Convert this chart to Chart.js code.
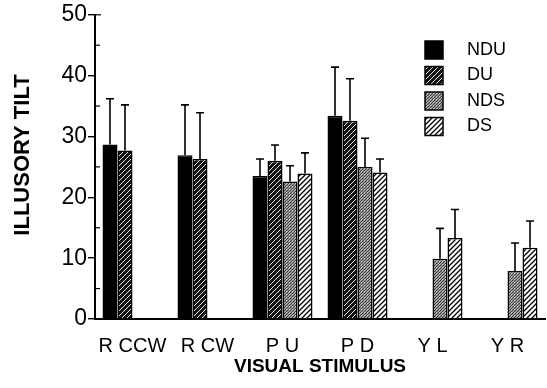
<!DOCTYPE html>
<html>
<head>
<meta charset="utf-8">
<script src="https://cdn.jsdelivr.net/npm/chart.js@4.4.1/dist/chart.umd.min.js"></script>
<style>
  html, body { margin: 0; padding: 0; background: #fff; }
  #wrap { width: 547px; height: 388px; }
</style>
</head>
<body>
<div id="wrap"><canvas id="chart"></canvas></div>
<script>
const stimuli = ['R CCW', 'R CW', 'P U', 'P D', 'Y L', 'Y R'];
const seriesNames = ['NDU', 'DU', 'NDS', 'DS'];

// mean illusory tilt per condition (null = not tested)
const ndu = [28.7, 26.9, 23.5, 33.4, null, null];
const du  = [27.7, 26.3, 26.0, 32.6, null, null];
const nds = [null, null, 22.6, 25.0, 9.9, 7.9];
const ds  = [null, null, 23.9, 24.1, 13.3, 11.7];

// upper error bar sizes
const nduErr = [7.5, 8.3, 2.8, 8.0, null, null];
const duErr  = [7.5, 7.6, 2.6, 6.9, null, null];
const ndsErr = [null, null, 2.6, 4.7, 5.0, 4.6];
const dsErr  = [null, null, 3.4, 2.2, 4.7, 4.4];

const yTicks = [0, 10, 20, 30, 40, 50];

const FONT = '"Liberation Sans", Arial, Helvetica, sans-serif';

function hatch(bg, fg, lw) {
  const c = document.createElement('canvas');
  c.width = 5; c.height = 5;
  const g = c.getContext('2d');
  g.fillStyle = bg; g.fillRect(0, 0, 5, 5);
  g.strokeStyle = fg; g.lineWidth = lw;
  g.beginPath();
  g.moveTo(-1, 6); g.lineTo(6, -1);
  g.moveTo(-1, 1); g.lineTo(1, -1);
  g.moveTo(4, 6); g.lineTo(6, 4);
  g.stroke();
  return g.createPattern(c, 'repeat');
}

function stipple() {
  const c = document.createElement('canvas');
  c.width = 3; c.height = 3;
  const g = c.getContext('2d');
  g.fillStyle = '#9a9a9a'; g.fillRect(0, 0, 3, 3);
  g.fillStyle = '#3a3a3a';
  g.fillRect(0, 0, 1, 1); g.fillRect(2, 1, 1, 1); g.fillRect(1, 2, 1, 1);
  g.fillStyle = '#d0d0d0';
  g.fillRect(1, 0, 1, 1);
  return g.createPattern(c, 'repeat');
}

const fills = ['#000', hatch('#111', '#fff', 0.9), stipple(), hatch('#fff', '#000', 1.3)];
const values = [ndu, du, nds, ds];
const errors = [nduErr, duErr, ndsErr, dsErr];

const extras = {
  id: 'extras',
  afterDatasetsDraw(chart) {
    const ctx = chart.ctx;
    const y = chart.scales.y;
    const area = chart.chartArea;
    ctx.save();
    ctx.strokeStyle = '#000';
    ctx.lineWidth = 1.6;
    // error bars (upper only)
    values.forEach((vals, di) => {
      const meta = chart.getDatasetMeta(di);
      vals.forEach((v, i) => {
        const e = errors[di][i];
        if (v == null || e == null) return;
        const x = meta.data[i].x;
        const y0 = y.getPixelForValue(v);
        const y1 = y.getPixelForValue(v + e);
        ctx.beginPath();
        ctx.moveTo(x, y0); ctx.lineTo(x, y1);
        ctx.moveTo(x - 4, y1); ctx.lineTo(x + 4, y1);
        ctx.stroke();
      });
    });
    // minor ticks pointing inward
    ctx.lineWidth = 1.2;
    for (let i = 0; i < yTicks.length - 1; i++) {
      const py = y.getPixelForValue((yTicks[i] + yTicks[i + 1]) / 2);
      ctx.beginPath();
      ctx.moveTo(area.left, py); ctx.lineTo(area.left + 5, py);
      ctx.stroke();
    }
    const topY = y.getPixelForValue(yTicks[yTicks.length - 1]);
    ctx.beginPath();
    ctx.moveTo(area.left, topY); ctx.lineTo(area.left + 6, topY);
    ctx.stroke();

    // legend inside plot
    ctx.font = '18px ' + FONT;
    ctx.textBaseline = 'middle';
    ctx.fillStyle = '#000';
    seriesNames.forEach((name, i) => {
      const cy = 50 + i * 25.5;
      ctx.fillStyle = fills[i];
      ctx.fillRect(425, cy - 9, 18, 18);
      ctx.lineWidth = 1.5;
      ctx.strokeRect(425, cy - 9, 18, 18);
      ctx.fillStyle = '#000';
      ctx.fillText(name, 467, cy);
    });

    // y axis title
    ctx.font = 'bold 22px ' + FONT;
    ctx.textAlign = 'center';
    ctx.translate(23, 155);
    ctx.rotate(-Math.PI / 2);
    ctx.fillText('ILLUSORY TILT', 0, 0);
    ctx.restore();
  }
};

new Chart(document.getElementById('chart'), {
  type: 'bar',
  data: {
    labels: stimuli,
    datasets: seriesNames.map((name, i) => ({
      label: name,
      data: values[i],
      backgroundColor: fills[i],
      borderColor: '#000',
      borderWidth: 1.5,
      categoryPercentage: 0.8,
      barPercentage: 1.0
    }))
  },
  options: {
    responsive: true,
    maintainAspectRatio: false,
    animation: false,
    layout: { padding: { top: 11, right: 2, left: 0, bottom: 0 } },
    plugins: {
      legend: { display: false },
      tooltip: { enabled: false }
    },
    scales: {
      x: {
        grid: { display: false },
        border: { display: true, color: '#000', width: 2 },
        ticks: { color: '#000', font: { family: FONT, size: 20 }, padding: 7 },
        title: {
          display: true,
          text: 'VISUAL STIMULUS',
          color: '#000',
          font: { family: FONT, size: 19, weight: 'bold' },
          padding: { top: 0, bottom: 10 }
        },
        afterFit(s) { s.height = 69; }
      },
      y: {
        min: 0,
        max: 50,
        afterBuildTicks(s) { s.ticks = yTicks.map(v => ({ value: v })); },
        grid: { drawOnChartArea: false, color: '#000', tickLength: 7, lineWidth: 1.4 },
        border: { display: true, color: '#000', width: 2 },
        ticks: { color: '#000', font: { family: FONT, size: 23 }, padding: 1 },
        afterFit(s) { s.width = 95; }
      }
    }
  },
  plugins: [extras]
});
</script>
</body>
</html>
